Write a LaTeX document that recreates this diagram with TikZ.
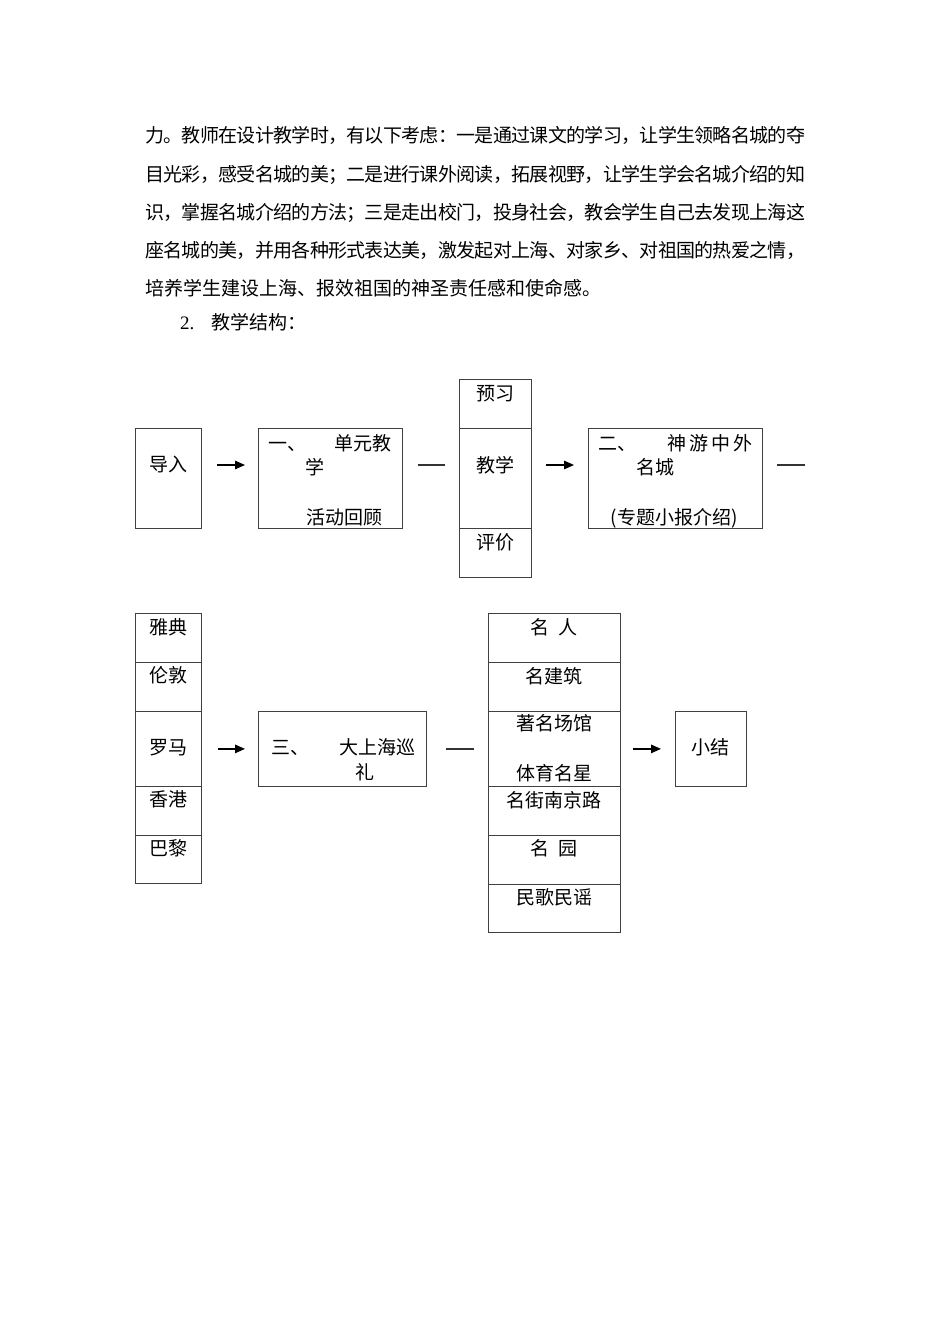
\documentclass[tikz,border=0pt]{standalone}
\usepackage{fontspec}
\setmainfont{Noto Sans CJK SC}
\newfontfamily\latinserif{Liberation Serif}
\usetikzlibrary{arrows.meta}
\let\jend\relax
\def\jline#1{\hbox to 660pt{\jfirst#1\jend}}
\def\jfirst#1{#1\jrest}
\def\jrest#1{\ifx#1\jend\else\hskip 0pt plus 1fil minus 1pt\relax#1\expandafter\jrest\fi}
\begin{document}
\begin{tikzpicture}[x=1pt,y=-1pt,
  font=\fontsize{19pt}{23pt}\selectfont,
  box/.style={draw=black!75, line width=0.8pt, inner sep=0pt, anchor=north west},
  txt/.style={inner sep=0pt, text height=16pt, text depth=2pt},
  arr/.style={-{Triangle[length=10pt,width=8.5pt]}, line width=1.3pt},
  dashline/.style={line width=1.3pt, draw=black!80}]
\fill[white] (0,0) rectangle (950,1344);
\useasboundingbox (0,0) rectangle (950,1344);

% paragraph
\node[txt, anchor=west] (p1) at (145,135) {\jline{力。教师在设计教学时，有以下考虑：一是通过课文的学习，让学生领略名城的夺}};
\node[txt, anchor=west] (p2) at (145,174) {\jline{目光彩，感受名城的美；二是进行课外阅读，拓展视野，让学生学会名城介绍的知}};
\node[txt, anchor=west] (p3) at (145,212) {\jline{识，掌握名城介绍的方法；三是走出校门，投身社会，教会学生自己去发现上海这}};
\node[txt, anchor=west] (p4) at (145,250) {\jline{座名城的美，并用各种形式表达美，激发起对上海、对家乡、对祖国的热爱之情，}};
\node[txt, anchor=west] (p5) at (145,288) {培养学生建设上海、报效祖国的神圣责任感和使命感。};
\node[txt, anchor=west] (p6) at (180,322) {{\latinserif 2.}\hspace{17pt}教学结构：};

% row 1 boxes
\node[box, minimum width=66pt, minimum height=100pt] (intro) at (135,428) {};
\node[box, minimum width=144pt, minimum height=100pt] (b1) at (258,428) {};
\node[box, minimum width=72pt, minimum height=49pt] (cpre) at (459,379) {};
\node[box, minimum width=72pt, minimum height=100pt] (cmid) at (459,428) {};
\node[box, minimum width=72pt, minimum height=49pt] (ceval) at (459,528) {};
\node[box, minimum width=174pt, minimum height=100pt] (b2) at (588,428) {};
\coordinate (row1) at (0,465);
\coordinate (end1) at (805,465);

% row 1 texts
\node[txt] (tintro) at (168,464) {导入};
\node[txt, anchor=west] (tb1a) at (268,443) {一、};
\node[txt, anchor=west] (tb1b) at (334,443) {单元教};
\node[txt] (tb1c) at (315,467) {学};
\node[txt, anchor=west] (tb1d) at (306,517) {活动回顾};
\node[txt] (tpre) at (495,393) {预习};
\node[txt] (tmid) at (495,465) {教学};
\node[txt] (teval) at (495,542) {评价};
\node[txt, anchor=west] (tb2a) at (598,443) {二、};
\node[txt, anchor=west] (tb2b) at (667,443) {神\hspace{3pt}游\hspace{3pt}中\hspace{3pt}外};
\node[txt] (tb2c) at (655,467) {名城};
\node[txt] (tb2d) at (674,517) {(专题小报介绍)};

% row 1 connectors
\draw[arr, shorten <=15pt, shorten >=13pt] (intro.east |- row1) -- (b1.west |- row1);
\draw[dashline, shorten <=15pt, shorten >=14pt] (b1.east |- row1) -- (cmid.west |- row1);
\draw[arr, shorten <=14pt, shorten >=14pt] (cmid.east |- row1) -- (b2.west |- row1);
\draw[dashline, shorten <=14pt] (b2.east |- row1) -- (end1);

% row 2 city column
\node[box, minimum width=66pt, minimum height=49pt] (athens) at (135,613) {};
\node[box, minimum width=66pt, minimum height=49pt] (london) at (135,662) {};
\node[box, minimum width=66pt, minimum height=75pt] (rome) at (135,711) {};
\node[box, minimum width=66pt, minimum height=49pt] (hk) at (135,786) {};
\node[box, minimum width=66pt, minimum height=48pt] (paris) at (135,835) {};
\node[txt] (tathens) at (168,627) {雅典};
\node[txt] (tlondon) at (168,675) {伦敦};
\node[txt] (trome) at (168,747) {罗马};
\node[txt] (thk) at (168,799) {香港};
\node[txt] (tparis) at (168,848) {巴黎};

% row 2 box three
\node[box, minimum width=168pt, minimum height=75pt] (b3) at (258,711) {};
\node[txt, anchor=west] (tb3a) at (271,747) {三、};
\node[txt, anchor=west] (tb3b) at (339,747) {大上海巡};
\node[txt] (tb3c) at (365,772) {礼};

% row 2 mid column
\node[box, minimum width=132pt, minimum height=49pt] (m1) at (488,613) {};
\node[box, minimum width=132pt, minimum height=49pt] (m2) at (488,662) {};
\node[box, minimum width=132pt, minimum height=75pt] (m3) at (488,711) {};
\node[box, minimum width=132pt, minimum height=49pt] (m4) at (488,786) {};
\node[box, minimum width=132pt, minimum height=49pt] (m5) at (488,835) {};
\node[box, minimum width=132pt, minimum height=48pt] (m6) at (488,884) {};
\node[txt] (tm1) at (554,627) {名\hspace{9pt}人};
\node[txt] (tm2) at (554,676) {名建筑};
\node[txt] (tm3a) at (554,723) {著名场馆};
\node[txt] (tm3b) at (554,773) {体育名星};
\node[txt] (tm4) at (554,800) {名街南京路};
\node[txt] (tm5) at (554,848) {名\hspace{9pt}园};
\node[txt] (tm6) at (554,897) {民歌民谣};

% summary
\node[box, minimum width=71pt, minimum height=75pt] (b4) at (675,711) {};
\node[txt] (tb4) at (710,747) {小结};

% row 2 connectors
\draw[arr, shorten <=16pt, shorten >=13pt] (rome.east) -- (b3.west);
\draw[dashline, shorten <=19pt, shorten >=14pt] (b3.east) -- (m3.west);
\draw[arr, shorten <=12pt, shorten >=14pt] (m3.east) -- (b4.west);
\end{tikzpicture}
\end{document}
